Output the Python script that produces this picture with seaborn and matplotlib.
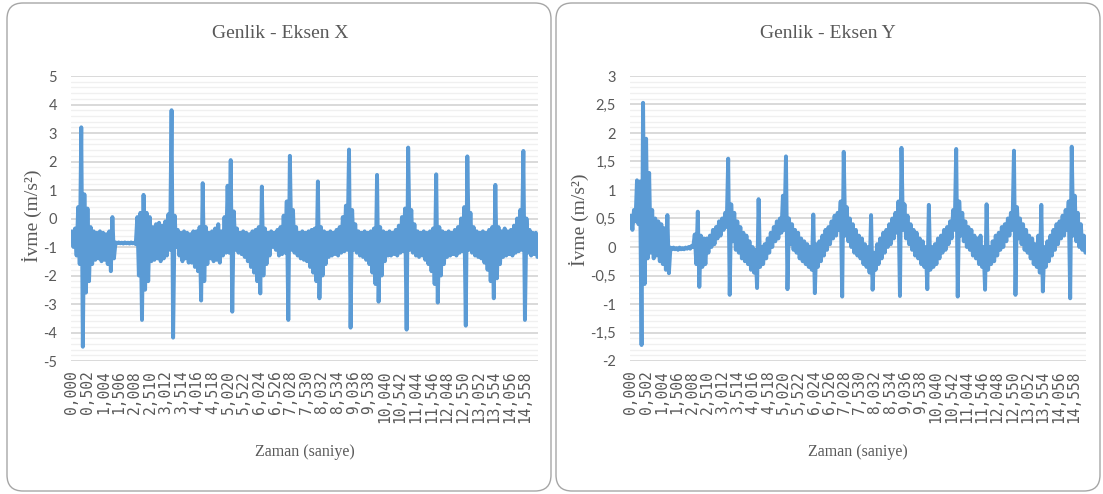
import numpy as np
import pandas as pd
import matplotlib
matplotlib.use("Agg")
import matplotlib.pyplot as plt
import seaborn as sns
from matplotlib.patches import FancyBboxPatch
from matplotlib.transforms import IdentityTransform
from matplotlib.ticker import MultipleLocator, FixedLocator, FuncFormatter

# Accelerometer readings: alternating envelope peaks (at s.0, s.1, ...) and
# troughs (at s.05, s.15, ...), one row per second of recording.
SAMPLE_STEP = 0.05

x_peaks = [
    -0.45, -0.35, 0.40, 3.20, 0.85, 0.35, -0.30, -0.45, -0.50, -0.45,
    -0.50, -0.55, -0.45, 0.05, -0.84, -0.84, -0.85, -0.84, -0.85, -0.84,
    -0.85, 0.05, 0.20, 0.83, 0.20, 0.05, -0.30, -0.20, -0.15, -0.25,
    -0.10, 0.15, 3.80, 0.10, -0.40, -0.50, -0.45, -0.50, -0.55, -0.45,
    -0.45, -0.30, 1.24, -0.30, -0.50, -0.45, -0.35, -0.20, -0.45, 0.05,
    1.15, 2.05, 0.25, -0.35, -0.50, -0.45, -0.50, -0.55, -0.45, -0.40,
    -0.30, 1.12, -0.35, -0.50, -0.45, -0.50, -0.40, -0.30, 0.10, 0.60,
    2.20, 0.30, -0.30, -0.50, -0.45, -0.50, -0.45, -0.40, -0.35, 1.30,
    -0.30, -0.45, -0.50, -0.45, -0.50, -0.40, -0.30, 0.05, 0.45, 2.42,
    0.30, -0.20, -0.45, -0.50, -0.45, -0.50, -0.45, -0.35, 1.53, -0.30,
    -0.45, -0.50, -0.45, -0.50, -0.40, -0.25, 0.05, 0.35, 2.49, 0.30,
    -0.20, -0.45, -0.50, -0.45, -0.50, -0.45, -0.35, 1.55, -0.30, -0.45,
    -0.50, -0.45, -0.50, -0.40, -0.30, 0.00, 0.40, 2.18, 0.20, -0.30,
    -0.45, -0.50, -0.45, -0.50, -0.40, -0.30, 1.18, -0.30, -0.45, -0.35,
    -0.45, -0.40, -0.25, 0.00, 0.30, 2.37, 0.00, -0.40, -0.50, -0.50,
]
x_troughs = [
    -1.00, -1.30, -1.60, -4.50, -2.60, -2.20, -1.60, -1.45, -1.40, -1.50,
    -1.45, -1.60, -1.85, -1.40, -0.87, -0.87, -0.88, -0.87, -0.88, -0.87,
    -0.90, -2.00, -3.56, -2.50, -2.20, -1.50, -1.45, -1.40, -1.50, -1.40,
    -1.30, -1.10, -4.18, -1.00, -1.30, -1.50, -1.40, -1.55, -1.55, -1.70,
    -1.85, -2.88, -2.20, -1.60, -1.40, -1.50, -1.45, -1.55, -1.30, -1.20,
    -1.20, -3.27, -1.10, -1.20, -1.25, -1.35, -1.50, -1.70, -1.90, -2.20,
    -2.63, -2.00, -1.60, -1.30, -1.00, -1.10, -1.30, -1.25, -1.20, -3.56,
    -1.10, -1.20, -1.30, -1.40, -1.45, -1.50, -1.70, -1.90, -2.20, -2.80,
    -2.00, -1.60, -1.35, -1.30, -1.25, -1.30, -1.20, -1.15, -1.10, -3.83,
    -1.10, -1.20, -1.30, -1.35, -1.45, -1.60, -1.90, -2.30, -2.92, -2.00,
    -1.50, -1.30, -1.30, -1.25, -1.30, -1.20, -1.15, -3.90, -1.10, -1.20,
    -1.30, -1.35, -1.30, -1.45, -1.60, -1.85, -2.30, -2.95, -2.00, -1.60,
    -1.35, -1.30, -1.25, -1.30, -1.20, -1.15, -3.76, -1.10, -1.20, -1.30,
    -1.35, -1.40, -1.55, -1.80, -2.20, -2.80, -2.10, -1.60, -1.35, -1.30,
    -1.25, -1.30, -1.20, -1.15, -1.10, -3.56, -1.20, -1.30, -1.25, -1.35,
]

y_peaks = [
    0.55, 0.65, 1.17, 1.15, 2.53, 1.90, 1.30, 0.65, 0.50, 0.45,
    0.40, 0.33, 0.56, -0.01, -0.01, -0.02, -0.01, -0.02, -0.01, 0.00,
    0.02, 0.22, 0.62, 0.20, 0.15, 0.15, 0.20, 0.30, 0.35, 0.45,
    0.50, 0.60, 1.55, 0.75, 0.60, 0.45, 0.35, 0.25, 0.20, 0.10,
    0.00, -0.05, 0.84, 0.00, 0.05, 0.15, 0.25, 0.35, 0.45, 0.50,
    0.90, 1.59, 0.50, 0.40, 0.30, 0.25, 0.15, 0.10, 0.05, 0.00,
    0.57, 0.05, 0.10, 0.20, 0.30, 0.35, 0.45, 0.55, 0.60, 0.80,
    1.67, 0.70, 0.50, 0.40, 0.30, 0.20, 0.15, 0.05, 0.00, 0.56,
    -0.10, 0.05, 0.15, 0.25, 0.30, 0.40, 0.50, 0.60, 0.80, 1.74,
    0.75, 0.55, 0.40, 0.30, 0.25, 0.15, 0.10, 0.00, 0.74, 0.00,
    0.05, 0.15, 0.20, 0.30, 0.35, 0.45, 0.65, 1.72, 0.80, 0.60,
    0.45, 0.35, 0.30, 0.20, 0.15, 0.20, 0.00, 0.75, 0.00, 0.10,
    0.20, 0.25, 0.35, 0.40, 0.50, 0.60, 1.69, 0.70, 0.50, 0.40,
    0.30, 0.20, 0.15, 0.05, 0.20, 0.74, 0.00, 0.10, 0.20, 0.30,
    0.40, 0.45, 0.55, 0.65, 0.80, 1.76, 0.90, 0.60, 0.40, 0.20,
]
y_troughs = [
    0.30, 0.45, 0.40, -1.72, -0.65, -0.20, -0.10, -0.20, -0.15, -0.25,
    -0.30, -0.40, -0.46, -0.04, -0.04, -0.05, -0.04, -0.04, -0.03, -0.03,
    0.00, -0.30, -0.70, -0.35, -0.30, -0.10, 0.00, 0.05, 0.15, 0.20,
    0.30, 0.35, -0.84, 0.10, -0.05, -0.10, -0.20, -0.25, -0.30, -0.40,
    -0.45, -0.72, -0.35, -0.30, -0.20, -0.10, 0.00, 0.10, 0.15, 0.25,
    0.30, -0.74, 0.05, -0.05, -0.10, -0.20, -0.25, -0.30, -0.35, -0.40,
    -0.81, -0.35, -0.25, -0.15, -0.05, 0.05, 0.15, 0.20, 0.30, -0.87,
    0.20, 0.10, 0.00, -0.10, -0.15, -0.20, -0.30, -0.35, -0.45, -0.75,
    -0.40, -0.30, -0.20, -0.10, 0.00, 0.05, 0.15, 0.25, -0.86, 0.30,
    0.15, 0.05, -0.05, -0.15, -0.20, -0.30, -0.35, -0.74, -0.40, -0.35,
    -0.30, -0.20, -0.10, -0.05, 0.05, 0.15, 0.30, -0.87, 0.20, 0.10,
    0.00, -0.05, -0.15, -0.20, -0.30, -0.35, -0.75, -0.40, -0.30, -0.25,
    -0.15, -0.05, 0.00, 0.10, 0.20, 0.30, -0.84, 0.15, 0.05, -0.05,
    -0.10, -0.20, -0.30, -0.35, -0.45, -0.78, -0.35, -0.25, -0.15, -0.05,
    0.05, 0.15, 0.20, 0.30, -0.90, 0.20, 0.10, 0.00, -0.05, -0.10,
]

time_labels = [
    "0,000", "0,502", "1,004", "1,506", "2,008", "2,510", "3,012", "3,514",
    "4,016", "4,518", "5,020", "5,522", "6,024", "6,526", "7,028", "7,530",
    "8,032", "8,534", "9,036", "9,538", "10,040", "10,542", "11,044",
    "11,546", "12,048", "12,550", "13,052", "13,554", "14,056", "14,558",
]

titles = ["Genlik - Eksen X", "Genlik - Eksen Y"]
x_title = "Zaman (saniye)"
y_title = "İvme (m/s²)"

BLUE = "#5b9bd5"
TEXT = "#595959"
W, H = 1103, 494

sns.set_theme(style="white")
plt.rcParams["font.family"] = ["DejaVu Sans"]


def to_frame(peaks, troughs):
    vals = np.empty(len(peaks) + len(troughs))
    vals[0::2] = peaks
    vals[1::2] = troughs
    return pd.DataFrame({"t": np.arange(vals.size) * SAMPLE_STEP, "a": vals})


def draw_panel(fig, rect, frame, ylim, major, minor, title, title_cx,
               box_x0, box_x1, ylabel_cx, ylabel_cy):
    # rounded chart frame
    box = FancyBboxPatch((box_x0, H - 491), box_x1 - box_x0, 488,
                         boxstyle="round,pad=0,rounding_size=16",
                         transform=IdentityTransform(), fill=False,
                         edgecolor="#a6a6a6", linewidth=1.0)
    fig.add_artist(box)

    l, b, w, h = rect
    ax = fig.add_axes([l / W, 1 - b / H, w / W, h / H])
    ax.set_axisbelow(True)
    sns.lineplot(data=frame, x="t", y="a", ax=ax, color=BLUE, linewidth=2.8,
                 estimator=None, sort=False,
                 solid_joinstyle="round", solid_capstyle="round")

    ax.set_xlim(-0.03, 14.97)
    ax.set_ylim(*ylim)
    ax.yaxis.set_major_locator(MultipleLocator(major))
    ax.yaxis.set_minor_locator(MultipleLocator(minor))
    ax.yaxis.set_major_formatter(
        FuncFormatter(lambda v, _: ("%g" % round(v, 3)).replace(".", ",")))
    ax.grid(which="major", axis="y", color="#d9d9d9", linewidth=1.4)
    ax.grid(which="minor", axis="y", color="#f0f0f0", linewidth=1.0)
    ax.grid(which="major", axis="x", visible=False)

    pos = [float(s.replace(",", ".")) for s in time_labels]
    ax.xaxis.set_major_locator(FixedLocator(pos))
    ax.set_xticklabels(time_labels, rotation=90,
                       fontfamily="DejaVu Sans Mono", fontsize=10.5, color=TEXT)
    for lbl in ax.get_yticklabels():
        lbl.set_fontfamily("Lato")
        lbl.set_fontsize(10.5)
        lbl.set_color(TEXT)
    ax.tick_params(axis="both", which="both", length=0)
    ax.tick_params(axis="x", pad=7)
    ax.tick_params(axis="y", pad=10)
    for sp in ax.spines.values():
        sp.set_visible(False)

    ax.set_xlabel(x_title, fontfamily="Liberation Serif", fontsize=11.5,
                  color=TEXT, va="center")
    ax.xaxis.set_label_coords(0.5, (b - 452) / h)
    ax.set_ylabel(y_title, fontfamily="Liberation Serif", fontsize=14,
                  color=TEXT, va="center", ha="center")
    ax.yaxis.set_label_coords((ylabel_cx - l) / w, (b - ylabel_cy) / h)
    fig.text(title_cx / W, 1 - 33 / H, title, fontfamily="Liberation Serif",
             fontsize=14, color=TEXT, ha="center", va="center")
    return ax


fig = plt.figure(figsize=(W / 100, H / 100), dpi=100)
fig.patch.set_facecolor("white")

draw_panel(fig, (71, 361, 467, 285), to_frame(x_peaks, x_troughs),
           (-5, 5), 1, 0.2, titles[0], 280, 7, 551, 32, 216)
draw_panel(fig, (630, 361, 456, 285), to_frame(y_peaks, y_troughs),
           (-2, 3), 0.5, 0.1, titles[1], 828, 556, 1100, 579, 220)

fig.savefig("out.png", dpi=100)
